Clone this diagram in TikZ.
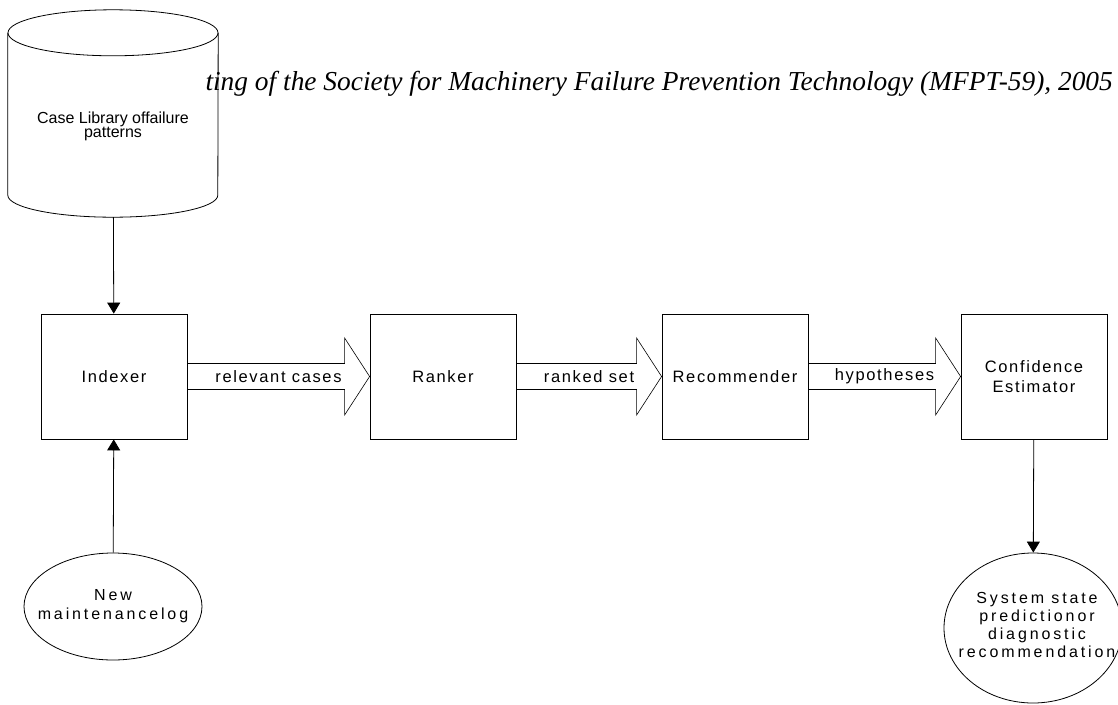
\documentclass[tikz,border=0pt]{standalone}
\usepackage{fontspec}
\setmainfont{Liberation Sans}
\newfontfamily\headfont{Liberation Serif}
\newfontfamily\boxfont[LetterSpace=10]{Liberation Sans}
\newfontfamily\blobfont[LetterSpace=18]{Liberation Sans}
\usetikzlibrary{shapes.geometric,arrows.meta,calc}

% wide hollow arrow from box #1 to box #2, labelled #3
\newcommand{\fatarrow}[3]{%
  \draw [fat] ($(#1.east)+(0,-13)$) -- ($(#2.west)+(-25,-13)$) -- ($(#2.west)+(-25,-38.5)$)
    -- (#2.west) -- ($(#2.west)+(-25,38.5)$) -- ($(#2.west)+(-25,13)$) -- ($(#1.east)+(0,13)$);
  \node (#1-#2) at ($(#1.east)!0.5!(#2.west)$) [tag] {#3};
}

\begin{document}
\begin{tikzpicture}
    [
    x=1pt,y=-1pt,
    block/.style={draw,line width=0.8pt,rectangle,minimum width=146pt,minimum height=125pt,
      align=center,font=\boxfont\fontsize{16.5}{20}\selectfont},
    store/.style={rectangle,minimum width=210pt,minimum height=207pt,inner sep=0pt},
    can/.style={draw,fill=white,line width=0.8pt},
    blob/.style={draw,fill=white,line width=0.8pt,ellipse,inner sep=0pt},
    blobtext/.style={align=center,inner sep=0pt,font=\blobfont\fontsize{16}{18}\selectfont},
    tag/.style={inner sep=0pt,font=\boxfont\fontsize{16.5}{20}\selectfont},
    fat/.style={line width=0.6pt},
    flow/.style={line width=0.8pt,-{Triangle[length=11pt,width=13pt]}}
    ]
    \useasboundingbox (0,0) rectangle (1118,704);
    % the case library drum
    \node (lib) at (113,113.5) [store] {};
    \draw [can] ($(lib.north west)+(0,23)$) -- ($(lib.south west)+(0,-22)$)
      arc [start angle=180,end angle=0,x radius=105,y radius=22]
      -- ($(lib.north east)+(0,23)$);
    \draw [can] ($(lib.north)+(0,23)$) ellipse [x radius=105,y radius=23];
    \node (libtext) at (113,126) [align=center,font=\fontsize{16}{14}\selectfont] {Case Library offailure\\patterns};
    \node (head) at (1113,90) [anchor=base east,inner sep=0pt,font=\headfont\itshape\fontsize{27.4}{30}\selectfont]
      {ting of the Society for Machinery Failure Prevention Technology (MFPT-59), 2005};
    \node (idx) at (114,376.5) [block] {Indexer};
    \node (rnk) at (443,376.5) [block] {Ranker};
    \node (rec) at (735,376.5) [block] {Recommender};
    \node (conf) at (1034,376.5) [block] {Confidence\\Estimator};
    \node (log) at (113,606.5) [blob,minimum width=178pt,minimum height=107pt] {};
    \node (logtext) at (log.center) [blobtext,font=\blobfont\fontsize{16}{19}\selectfont] {New\\maintenancelog};
    \node (sys) at (1033,628) [blob,minimum width=178pt,minimum height=150pt] {};
    \node (systext) at ($(sys.center)+(4,-3)$) [blobtext] {System state\\predictionor\\diagnostic\\recommendation};
    \draw [flow] (lib) to (idx);
    \draw [flow] (log) to (idx);
    \draw [flow] (conf) to (sys);
    \fatarrow{idx}{rnk}{relevant cases}
    \fatarrow{rnk}{rec}{ranked set}
    \fatarrow{rec}{conf}{hypotheses}
  \end{tikzpicture}
\end{document}
